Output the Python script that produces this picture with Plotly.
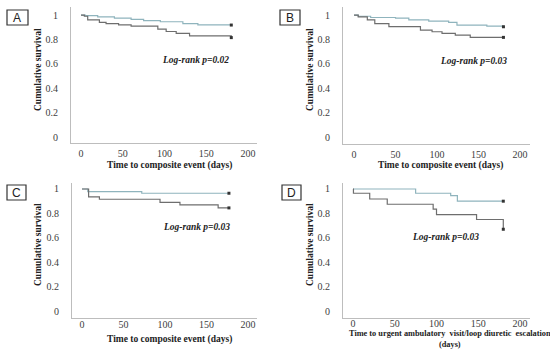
import plotly.graph_objects as go

# ---- data (Kaplan-Meier step curves) ----
a_teal_t = [0, 5, 20, 40, 60, 75, 95, 122, 140, 180]
a_teal_s = [1.0, 0.995, 0.985, 0.975, 0.965, 0.955, 0.945, 0.93, 0.92, 0.918]
a_dark_t = [0, 4, 8, 22, 30, 45, 60, 92, 102, 114, 130, 180]
a_dark_s = [1.0, 0.99, 0.96, 0.94, 0.93, 0.92, 0.91, 0.885, 0.865, 0.85, 0.83, 0.815]

b_teal_t = [0, 5, 20, 50, 66, 90, 114, 124, 160, 180]
b_teal_s = [1.0, 0.99, 0.98, 0.975, 0.96, 0.95, 0.94, 0.918, 0.91, 0.904]
b_dark_t = [0, 5, 16, 25, 42, 80, 94, 106, 122, 140, 180]
b_dark_s = [1.0, 0.985, 0.96, 0.93, 0.905, 0.877, 0.863, 0.85, 0.836, 0.817, 0.817]

c_teal_t = [0, 7, 72, 177]
c_teal_s = [1.0, 0.978, 0.965, 0.965]
c_dark_t = [0, 8, 21, 94, 118, 164, 177]
c_dark_s = [1.0, 0.935, 0.916, 0.89, 0.869, 0.845, 0.845]

d_teal_t = [0, 75, 117, 125, 180]
d_teal_s = [1.0, 0.965, 0.945, 0.90, 0.90]
d_dark_t = [0, 0.5, 20, 41, 96, 100, 148, 180]
d_dark_s = [1.0, 0.965, 0.918, 0.875, 0.835, 0.79, 0.75, 0.67]

pvals = ["Log-rank p=0.02", "Log-rank p=0.03", "Log-rank p=0.03", "Log-rank p=0.03"]
panel_letters = ["A", "B", "C", "D"]
x_titles = ["Time to composite event (days)", "Time to composite event (days)",
            "Time to composite event (days)",
            "Time to urgent ambulatory  visit/loop diuretic  escalation<br>(days)"]
x_ticks = [0, 50, 100, 150, 200]
y_ticks = [0, 0.2, 0.4, 0.6, 0.8, 1]
y_ticktext = ["0", "0.2", "0.4", "0.6", "0.8", "1"]

W, H = 550, 355
TEAL = "#8fb4bd"
DARK = "#6e6e6e"
SERIF = "Liberation Serif, Times New Roman, serif"

panels = [
    dict(px=(71, 257), py=(7, 143), xr=(-12, 210.8), yr=(-0.049, 1.066),
         data=((a_teal_t, a_teal_s), (a_dark_t, a_dark_s)), xsd=0,
         pv=(195, 60), box=(7, 28, 10, 25), ytitle=(38, 70), xt=(169, 165), xts=9.5),
    dict(px=(343, 530), py=(7, 144), xr=(-13.3, 212), yr=(-0.057, 1.066),
         data=((b_teal_t, b_teal_s), (b_dark_t, b_dark_s)), xsd=0,
         pv=(473, 61), box=(280, 300, 10, 25), ytitle=(310, 70), xt=(441, 165), xts=9.5),
    dict(px=(72, 257), py=(183, 318), xr=(-12, 210.8), yr=(-0.057, 1.049),
         data=((c_teal_t, c_teal_s), (c_dark_t, c_dark_s)), xsd=-3,
         pv=(196, 227), box=(7, 26, 185, 200), ytitle=(38, 245), xt=(169, 339), xts=9.5),
    dict(px=(343, 530), py=(183, 318), xr=(-12, 212), yr=(-0.057, 1.049),
         data=((d_teal_t, d_teal_s), (d_dark_t, d_dark_s)), xsd=-4,
         pv=(445, 237), box=(282, 301, 185, 200), ytitle=(310, 245), xt=(450, 338.5), xts=8.3),
]

fig = go.Figure()
annotations = []
shapes = []


def ann(x, y, text, font, angle=0):
    return dict(x=x / W, y=1 - y / H, xref="paper", yref="paper", text=text,
                showarrow=False, xanchor="center", yanchor="middle",
                textangle=angle, font=font)


for i, p in enumerate(panels):
    n = "" if i == 0 else str(i + 1)
    xa, ya = "x" + n, "y" + n
    for (t, s), col in zip(p["data"], (TEAL, DARK)):
        fig.add_trace(go.Scatter(x=t, y=s, mode="lines", line=dict(color=col, width=1.2, shape="hv"),
                                 xaxis=xa, yaxis=ya, showlegend=False, hoverinfo="skip"))
        fig.add_trace(go.Scatter(x=[t[-1]], y=[s[-1]], mode="markers",
                                 marker=dict(color="#333333", size=3, symbol="square"),
                                 xaxis=xa, yaxis=ya, showlegend=False, hoverinfo="skip"))
    x0, x1 = p["px"]
    yt, yb = p["py"]
    common_font = dict(family=SERIF, size=10, color="#404040")
    xax = dict(
        domain=[x0 / W, x1 / W], range=list(p["xr"]), anchor=ya,
        tickvals=x_ticks, ticks="outside", ticklen=1, tickcolor="rgba(0,0,0,0)",
        showline=True, linecolor="#bdbdbd", linewidth=1, showgrid=False, zeroline=False,
        tickfont=common_font)
    if p["xsd"]:
        xax["ticks"] = ""
        xax["ticklabelstandoff"] = p["xsd"]
    fig.layout["xaxis" + n] = xax
    fig.layout["yaxis" + n] = dict(
        domain=[1 - yb / H, 1 - yt / H], range=list(p["yr"]), anchor=xa,
        tickvals=y_ticks, ticktext=y_ticktext, ticks="outside", ticklen=10,
        tickcolor="rgba(0,0,0,0)",
        showline=True, linecolor="#bdbdbd", linewidth=1, showgrid=False, zeroline=False,
        tickfont=common_font)
    tfont = dict(family=SERIF, size=9.5, color="#222222")
    annotations.append(ann(p["pv"][0], p["pv"][1], "<b><i>" + pvals[i] + "</i></b>", tfont))
    annotations.append(ann(p["ytitle"][0], p["ytitle"][1], "<b>Cumulative survival</b>", tfont, -90))
    annotations.append(ann(p["xt"][0], p["xt"][1], "<b>" + x_titles[i] + "</b>",
                           dict(family=SERIF, size=p["xts"], color="#222222")))
    bx0, bx1, by0, by1 = p["box"]
    shapes.append(dict(type="rect", xref="paper", yref="paper",
                       x0=bx0 / W, x1=bx1 / W, y0=1 - by1 / H, y1=1 - by0 / H,
                       line=dict(color="#333333", width=1.2)))
    annotations.append(ann((bx0 + bx1) / 2, (by0 + by1) / 2, panel_letters[i],
                           dict(family="Liberation Sans, Arial, sans-serif", size=12, color="#222222")))

fig.update_layout(width=W, height=H, margin=dict(l=0, r=0, t=0, b=0),
                  paper_bgcolor="white", plot_bgcolor="white",
                  annotations=annotations, shapes=shapes)
fig.write_html("out.html", config={"displayModeBar": False},
               post_script="document.body.style.margin='0';document.body.style.overflow='hidden';")
